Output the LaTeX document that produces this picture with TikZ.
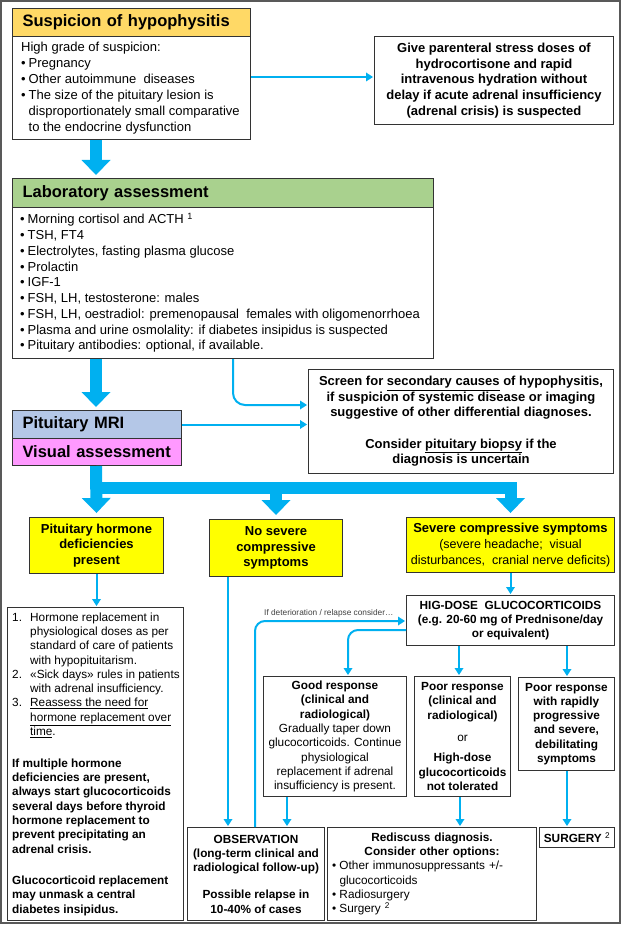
\documentclass[tikz,border=0pt]{standalone}
\usepackage{fontspec}
\setmainfont{Liberation Sans}
\usetikzlibrary{arrows.meta,calc}

\definecolor{arrowblue}{HTML}{00B0F0}
\definecolor{hdrgold}{HTML}{FFD966}
\definecolor{hdrgreen}{HTML}{A9D18E}
\definecolor{hdrblue}{HTML}{B4C7E7}
\definecolor{hdrpink}{HTML}{FF99FF}
\definecolor{boxyellow}{HTML}{FFFF00}
\definecolor{edge}{HTML}{333333}
\definecolor{framegray}{HTML}{595959}
\definecolor{lblgray}{HTML}{404040}

\newcommand{\ftitle}{\fontsize{16.5}{19}\selectfont\bfseries}
\newcommand{\fsus}{\fontsize{13}{16}\selectfont}
\newcommand{\flab}{\fontsize{13}{15.75}\selectfont}
\newcommand{\fadr}{\fontsize{13}{15.7}\selectfont\bfseries}
\newcommand{\fscr}{\fontsize{13}{15.2}\selectfont\bfseries}
\newcommand{\fyel}{\fontsize{13}{15.8}\selectfont}
\newcommand{\fyelr}{\fontsize{12.5}{15.8}\selectfont}
\newcommand{\flow}{\fontsize{11.8}{14.3}\selectfont}
\newcommand{\flbl}{\fontsize{8.3}{10}\selectfont}
\newcommand{\bul}{\makebox[7.5pt][l]{•}}

\begin{document}
\begin{tikzpicture}[x=1pt,y=-1pt,
  box/.style={draw=edge, line width=1pt, anchor=north west, inner sep=0pt, align=center},
  txtl/.style={anchor=west, align=left, inner sep=0pt},
  barrow/.style={draw=arrowblue, line width=12pt, -{Triangle[width=29pt,length=15pt,line width=0pt]}},
  tarrow/.style={draw=arrowblue, line width=2pt, -{Triangle[width=9pt,length=7pt,line width=0pt]}, shorten >=1pt}]

\useasboundingbox (0,0) rectangle (624,925);
\draw[draw=framegray, line width=1.6pt] (1,1) rectangle (620,923);

% --- top section
\node[box, fill=hdrgold, minimum width=238pt, minimum height=28pt, text width=218pt, align=left, font=\ftitle] (sushead) at (12,8) {\mbox{Suspicion of hypophysitis}};
\node[box, minimum width=238pt, minimum height=103pt] (susbody) at (12,36) {};
\node[txtl, font=\fsus] (sustext) at ($(susbody.west)+(9,0)$) {High grade of suspicion:\\
\bul Pregnancy\\
\bul Other autoimmune\ \ diseases\\
\bul The size of the pituitary lesion is\\
\hspace*{7.5pt}disproportionately small comparative\\
\hspace*{7.5pt}to the endocrine dysfunction};

\node[box, minimum width=239pt, minimum height=88pt, font=\fadr] (adrenal) at (374,36) {Give parenteral stress doses of\\ hydrocortisone and rapid\\ intravenous hydration without\\ delay if acute adrenal insufficiency\\ (adrenal crisis) is suspected};

% --- laboratory
\node[box, fill=hdrgreen, minimum width=421pt, minimum height=29pt, text width=401pt, align=left, font=\ftitle] (labhead) at (12,178) {\mbox{Laboratory assessment}};
\node[box, minimum width=421pt, minimum height=151pt] (labbody) at (12,207) {};
\node[txtl, font=\flab] (labtext) at ($(labbody.west)+(8,0)$) {\bul Morning cortisol and ACTH \textsuperscript{1}\\
\bul TSH, FT4\\
\bul Electrolytes, fasting plasma glucose\\
\bul Prolactin\\
\bul IGF-1\\
\bul FSH, LH, testosterone: males\\
\bul FSH, LH, oestradiol: premenopausal\ \ females with oligomenorrhoea\\
\bul Plasma and urine osmolality: if diabetes insipidus is suspected\\
\bul Pituitary antibodies: optional, if available.};

% --- screen box
\node[box, minimum width=305pt, minimum height=104pt, font=\fscr] (screen) at (308,369) {Screen for \underline{secondary causes} of hypophysitis,\\ if suspicion of systemic disease or imaging\\ suggestive of other differential diagnoses.\\[17pt] Consider \underline{pituitary biopsy} if the\\ diagnosis is uncertain};

% --- MRI / visual
\node[box, fill=hdrblue, minimum width=169pt, minimum height=28pt, text width=149pt, align=left, font=\ftitle] (mri) at (12,410) {\mbox{Pituitary MRI}};
\node[box, fill=hdrpink, minimum width=169pt, minimum height=27pt, text width=149pt, align=left, font=\ftitle] (visual) at (12,438) {\mbox{Visual assessment}};

% --- yellow boxes
\node[box, fill=boxyellow, minimum width=134pt, minimum height=56pt, font=\fyel\bfseries] (pit) at (29,517) {Pituitary hormone\\ deficiencies\\ present};
\node[box, fill=boxyellow, minimum width=133pt, minimum height=57pt, font=\fyel\bfseries] (nosev) at (209,519) {No severe\\ compressive\\ symptoms};
\node[box, fill=boxyellow, minimum width=208pt, minimum height=55pt, font=\fyel] (sev) at (406,517) {\textbf{Severe compressive symptoms}\\ {\fyelr(severe headache;\ \ visual}\\ {\fyelr disturbances,\ \ cranial nerve deficits)}};

% --- left list
\node[box, minimum width=176pt, minimum height=313pt] (listbox) at (7,607) {};
\node[txtl, font=\flow] (listtext) at ($(listbox.west)+(5,0)$) {\makebox[18pt][l]{1.}Hormone replacement in\\
\hspace*{18pt}physiological doses as per\\
\hspace*{18pt}standard of care of patients\\
\hspace*{18pt}with hypopituitarism.\\
\makebox[18pt][l]{2.}«Sick days» rules in patients\\
\hspace*{18pt}with adrenal insufficiency.\\
\makebox[18pt][l]{3.}\underline{Reassess the need for}\\
\hspace*{18pt}\underline{hormone replacement over}\\
\hspace*{18pt}\underline{time}.\\[17.5pt]
\textbf{If multiple hormone}\\
\textbf{deficiencies are present,}\\
\textbf{always start glucocorticoids}\\
\textbf{several days before thyroid}\\
\textbf{hormone replacement to}\\
\textbf{prevent precipitating an}\\
\textbf{adrenal crisis.}\\[17pt]
\textbf{Glucocorticoid replacement}\\
\textbf{may unmask a central}\\
\textbf{diabetes insipidus.}};

% --- glucocorticoid branch
\node[box, minimum width=208pt, minimum height=50pt, font=\flow\bfseries] (hig) at (406,595) {HIG-DOSE\ \ GLUCOCORTICOIDS\\ (e.g. 20-60 mg of Prednisone/day\\ or equivalent)};
\node[box, minimum width=143pt, minimum height=120pt, font=\flow] (good) at (263,676) {\textbf{Good response}\\ \textbf{(clinical and}\\ \textbf{radiological)}\\ Gradually taper down\\ glucocorticoids. Continue\\ physiological\\ replacement if adrenal\\ insufficiency is present.};
\node[box, minimum width=96pt, minimum height=120pt, font=\flow] (poor) at (414,676) {\textbf{Poor response}\\ \textbf{(clinical and}\\ \textbf{radiological)}\\[8pt] or\\[6pt] \textbf{High-dose}\\ \textbf{glucocorticoids}\\ \textbf{not tolerated}};
\node[box, minimum width=96pt, minimum height=93pt, font=\flow\bfseries] (rapid) at (518,677) {Poor response\\ with rapidly\\ progressive\\ and severe,\\ debilitating\\ symptoms};

\node[box, minimum width=137pt, minimum height=93pt, font=\flow\bfseries] (obs) at (187,827) {OBSERVATION\\ (long-term clinical and\\ radiological follow-up)\\[12.7pt] Possible relapse in\\ 10-40\% of cases};
\node[box, minimum width=209pt, minimum height=93pt, text width=200pt, align=left, font=\flow] (redisc) at (327,827) {\makebox[200pt][c]{\bfseries Rediscuss diagnosis.}\\
\makebox[200pt][c]{\bfseries Consider other options:}\\
\bul Other immunosuppressants +/-\\
\hspace*{7.5pt}glucocorticoids\\
\bul Radiosurgery\\
\bul Surgery \textsuperscript{2}};
\node[box, minimum width=75pt, minimum height=20pt, font=\flow] (surg) at (539,827) {\textbf{SURGERY} \textsuperscript{2}};

\node[anchor=west, inner sep=0pt, font=\flbl, text=lblgray] (relapselbl) at (264,613) {If deterioration / relapse consider…};

% --- connectors
\draw[tarrow] ($(susbody.north east)+(0,41)$) -- ($(adrenal.north west)+(0,41)$);
\draw[barrow] ($(susbody.south west)+(84,0)$) -- ($(labhead.north west)+(84,-3)$);
\draw[tarrow, rounded corners=12pt] ($(labbody.south west)+(221,0)$) |- ($(screen.north west)+(0,36)$);
\draw[barrow] ($(labbody.south west)+(84,0)$) -- ($(mri.north west)+(84,-3)$);
\draw[tarrow] (mri.east) -- (mri.east -| screen.west);

\draw[barrow] ($(visual.south west)+(84,0)$) -- ($(pit.north)+(0,-4)$);
\draw[barrow] ($(visual.south west)+(84,22)$) -| ($(sev.north)+(0,-4)$);
\draw[barrow] ($(nosev.north)+(0,-32)$) -- ($(nosev.north)+(0,-4)$);

\draw[tarrow] (pit.south) -- (pit.south |- listbox.north);
\draw[tarrow] ($(nosev.south west)+(19,0)$) -- ($(obs.north west)+(41,0)$);
\draw[tarrow] (sev.south) -- (sev.south |- hig.north);
\draw[tarrow, rounded corners=10pt] ($(obs.north west)+(68,0)$) |- ($(hig.north west)+(0,26)$);
\draw[tarrow, rounded corners=10pt] ($(hig.north west)+(0,35)$) -| ($(good.north west)+(85,0)$);
\draw[tarrow] ($(hig.south west)+(53,0)$) -- ($(poor.north west)+(45,0)$);
\draw[tarrow] ($(hig.south west)+(161,0)$) -- ($(rapid.north west)+(49,0)$);
\draw[tarrow] ($(good.south west)+(24,0)$) -- ($(obs.north west)+(100,0)$);
\draw[tarrow] ($(poor.south west)+(46,0)$) -- ($(redisc.north west)+(133,0)$);
\draw[tarrow] ($(rapid.south west)+(49,0)$) -- ($(surg.north west)+(28,0)$);
\end{tikzpicture}
\end{document}
